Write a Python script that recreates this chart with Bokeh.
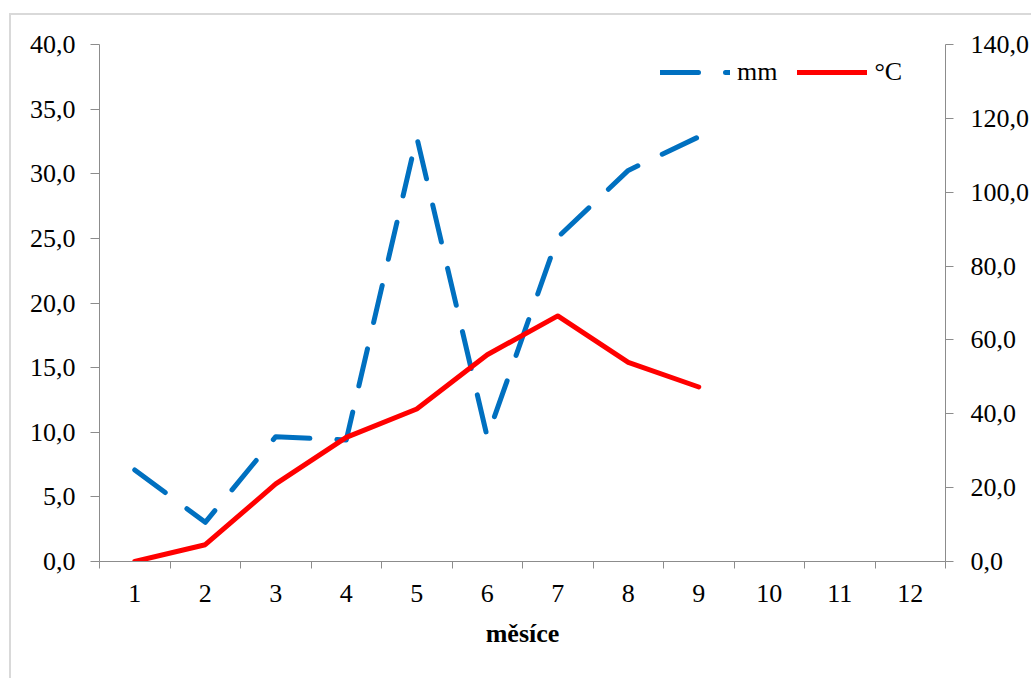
from bokeh.plotting import figure
from bokeh.models import Range1d, LinearAxis, FixedTicker, Legend, LegendItem
from bokeh.embed import file_html
from bokeh.resources import INLINE

months = [1, 2, 3, 4, 5, 6, 7, 8, 9]
month_labels = [str(i) for i in range(1, 13)]
mm = [24.8, 10.6, 33.8, 32.9, 114.9, 33.7, 87.8, 105.9, 115.0]
temp_c = [0.0, 1.3, 6.0, 9.6, 11.8, 16.0, 19.0, 15.4, 13.5]
left_ticks = [0, 5, 10, 15, 20, 25, 30, 35, 40]
right_ticks = [0, 20, 40, 60, 80, 100, 120, 140]

FONT = "Liberation Serif"
AXIS_GRAY = "#8c8c8c"
BLUE = "#0070C0"
RED = "#FF0000"

OX, OY = 11, 15
W, H = 1033 - OX, 680 - OY
p = figure(width=W, height=H, output_backend="svg", toolbar_location=None,
           x_range=Range1d(0.5, 12.5), y_range=Range1d(0, 40),
           min_border_left=99 - OX, min_border_top=44 - OY,
           min_border_right=88, min_border_bottom=680 - 561)
p.styles = {"border-left": "2px solid #d9d9d9", "border-top": "2px solid #d9d9d9",
            "margin-left": "9px", "margin-top": "13px"}
p.xgrid.visible = False
p.ygrid.visible = False
p.outline_line_color = None

p.extra_y_ranges = {"mm": Range1d(0, 140)}

xa = p.xaxis[0]
xa.ticker = FixedTicker(ticks=list(range(1, 13)),
                        minor_ticks=[i + 0.5 for i in range(0, 13)])
xa.major_label_overrides = {i + 1: lab for i, lab in enumerate(month_labels)}
xa.major_tick_line_color = None
xa.major_tick_out = 0
xa.major_tick_in = 0
xa.minor_tick_line_color = AXIS_GRAY
xa.minor_tick_out = 7
xa.minor_tick_in = 0
xa.axis_line_color = AXIS_GRAY
xa.major_label_text_font = FONT
xa.major_label_text_font_size = "26px"
xa.major_label_text_color = "black"
xa.major_label_standoff = 16
xa.axis_label = "měsíce"
xa.axis_label_text_font = FONT
xa.axis_label_text_font_size = "26px"
xa.axis_label_text_font_style = "bold"
xa.axis_label_text_color = "black"
xa.axis_label_standoff = 14

ya = p.yaxis[0]
ya.ticker = FixedTicker(ticks=left_ticks, minor_ticks=[])
ya.major_label_overrides = {t: f"{t:.1f}".replace(".", ",") for t in left_ticks}
ya.axis_line_color = AXIS_GRAY
ya.major_tick_line_color = AXIS_GRAY
ya.major_tick_out = 9
ya.major_tick_in = 0
ya.minor_tick_line_color = None
ya.major_label_text_font = FONT
ya.major_label_text_font_size = "26px"
ya.major_label_text_color = "black"
ya.major_label_standoff = 15

ra = LinearAxis(y_range_name="mm")
ra.ticker = FixedTicker(ticks=right_ticks, minor_ticks=[])
ra.major_label_overrides = {t: f"{t:.1f}".replace(".", ",") for t in right_ticks}
ra.axis_line_color = AXIS_GRAY
ra.major_tick_line_color = AXIS_GRAY
ra.major_tick_out = 8
ra.major_tick_in = 0
ra.minor_tick_line_color = None
ra.major_label_text_font = FONT
ra.major_label_text_font_size = "26px"
ra.major_label_text_color = "black"
ra.major_label_standoff = 17
p.add_layout(ra, "right")

r_mm = p.line(months, mm, y_range_name="mm", line_color=BLUE, line_width=5,
              line_dash="38 27", line_cap="round", line_join="round")
r_t = p.line(months, temp_c, line_color=RED, line_width=5,
             line_cap="round", line_join="round")

legend = Legend(items=[LegendItem(label="mm", renderers=[r_mm]),
                       LegendItem(label="°C", renderers=[r_t])],
                orientation="horizontal", location=(561, 474),
                glyph_width=70, glyph_height=30, label_height=30,
                label_standoff=7, spacing=20, padding=0, margin=0,
                border_line_color=None, background_fill_alpha=0,
                label_text_font=FONT, label_text_font_size="26px",
                label_text_color="black")
p.add_layout(legend, "center")

open("out.html", "w").write(file_html(p, INLINE))
